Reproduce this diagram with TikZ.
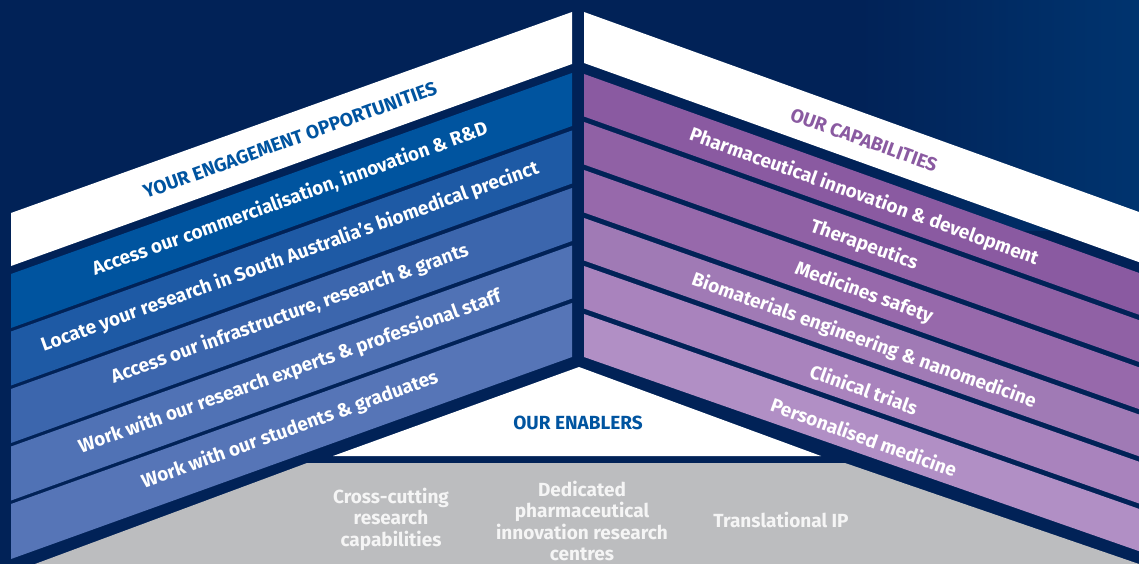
\documentclass[tikz,border=0pt]{standalone}
\usepackage{fontspec}
\setmainfont{Fira Sans}

\definecolor{navy}{HTML}{012257}
\definecolor{navylight}{HTML}{00346F}
\definecolor{engblue}{HTML}{0054A0}
\definecolor{blueA}{HTML}{00549F}
\definecolor{blueB}{HTML}{1E5AA5}
\definecolor{blueC}{HTML}{3C66AD}
\definecolor{blueD}{HTML}{5072B5}
\definecolor{blueE}{HTML}{5675B7}
\definecolor{purpA}{HTML}{8A5AA1}
\definecolor{purpB}{HTML}{9061A5}
\definecolor{purpC}{HTML}{9769AB}
\definecolor{purpD}{HTML}{A07AB5}
\definecolor{purpE}{HTML}{A983BD}
\definecolor{purpF}{HTML}{B18FC5}
\definecolor{enabgray}{HTML}{BCBDBF}

\tikzstyle{band text} = [text=white, inner sep=0pt, font=\bfseries\fontsize{19}{21}\selectfont]
\tikzstyle{head text} = [inner sep=0pt, font=\bfseries\fontsize{19}{21}\selectfont]
\tikzstyle{enabler} = [text=white!92!gray, align=center, inner sep=0pt, font=\bfseries\fontsize{19}{21.5}\selectfont]

\begin{document}
\begin{tikzpicture}[x=1pt,y=-1pt]
       \useasboundingbox (0,0) rectangle (1139,564);
       \fill[navy] (0,0) rectangle (1139,564);
       \shade[left color=navy, right color=navylight] (860,0) rectangle (1139,230);
       \foreach \ytop/\ybot/\col in {12/64/white, 73/126/blueA, 130.5/183.5/blueB, 188/241/blueC, 245.5/298.5/blueD, 303/357/blueE} {
           \fill[\col] (572,\ytop) -- (572,\ybot) -- (11,{\ybot+202}) -- (11,{\ytop+201}) -- cycle;
       }
       \foreach \ytop/\ybot/\col in {12/63/white, 74/116.5/purpA, 122/164.5/purpB, 170/212.5/purpC, 218/260.5/purpD, 266/308.5/purpE, 314/357/purpF} {
           \fill[\col] (584,\ytop) -- (1139,{\ytop+200-(\ytop-12)*0.017}) -- (1139,{\ybot+200-(\ybot-12)*0.017}) -- (584,\ybot) -- cycle;
       }
       \fill[white] (579,367) -- (821,456) -- (333,456) -- cycle;
       \fill[enabgray] (307,463) -- (845,463) -- (1139,564) -- (35,564) -- cycle;

       \node[head text, text=engblue, rotate=19.8] (eng) at (290,140) {YOUR ENGAGEMENT OPPORTUNITIES};
       \foreach \y/\name/\txt in {199/o1/{Access our commercialisation, innovation \& R\&D}, 257/o2/{Locate your research in South Australia's biomedical precinct}, 314/o3/{Access our infrastructure, research \& grants}, 372/o4/{Work with our research experts \& professional staff}, 430/o5/{Work with our students \& graduates}} {
           \node[band text, rotate=19.8] (\name) at (290,\y) {\txt};
       }
       \node[head text, text=purpA, rotate=-19.8] (cap) at (864,140) {OUR CAPABILITIES};
       \foreach \y/\name/\txt in {197/c1/{Pharmaceutical innovation \& development}, 245/c2/Therapeutics, 293/c3/Medicines safety, 341/c4/{Biomaterials engineering \& nanomedicine}, 389/c5/Clinical trials, 437/c6/Personalised medicine} {
           \node[band text, rotate=-19.8] (\name) at (864,\y) {\txt};
       }
       \node[head text, text=engblue] (enab) at (578,423) {OUR ENABLERS};
       \node[enabler] (e1) at (391,519) {Cross-cutting\\research\\capabilities};
       \node[enabler] (e2) at (582,521) {Dedicated\\pharmaceutical\\innovation research\\centres};
       \node[enabler] (e3) at (781,520) {Translational IP};
\end{tikzpicture}
\end{document}
